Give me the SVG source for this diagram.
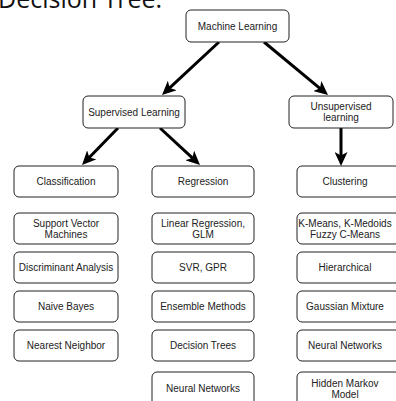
<svg xmlns="http://www.w3.org/2000/svg" width="396" height="401" viewBox="0 0 396 401">
<style>
.box{fill:#fff;stroke:#222;stroke-width:1}
.t{font-family:"Liberation Sans",Arial,sans-serif;font-size:10px;fill:#222;text-anchor:middle;dominant-baseline:central}
.ln{stroke:#000;stroke-width:3;fill:none;marker-end:url(#ah)}
.title{font-family:"Open Sans",sans-serif;font-size:25px;fill:#111}
</style>
<defs>
<marker id="ah" viewBox="0 0 14 13" refX="5" refY="6.5" markerWidth="14" markerHeight="13" markerUnits="userSpaceOnUse" orient="auto">
<path d="M0,0 L14,6.5 L0,13 L3.5,6.5 Z" fill="#000"/>
</marker>
</defs>
<rect width="396" height="401" fill="#fff"/>
<text class="title" x="-2" y="8">Decision Tree.</text>
<g id="connectors">
<line class="ln" x1="219" y1="42" x2="168.6" y2="88.9"/>
<line class="ln" x1="264" y1="42" x2="321.1" y2="89.3"/>
<line class="ln" x1="118" y1="128" x2="88.3" y2="158.5"/>
<line class="ln" x1="160" y1="128" x2="193.4" y2="158.9"/>
<line class="ln" x1="341" y1="128" x2="341" y2="157"/>
</g>
<g id="machine-learning"><rect class="box" x="186" y="10" width="103" height="32" rx="5"/><text class="t" x="237.5" y="26">Machine Learning</text></g>
<g id="supervised"><rect class="box" x="83" y="96" width="102" height="32" rx="5"/><text class="t" x="134" y="112">Supervised Learning</text></g>
<g id="unsupervised"><rect class="box" x="289" y="96" width="104" height="32" rx="5"/><text class="t" x="341" y="106.5">Unsupervised</text><text class="t" x="341" y="117.5">learning</text></g>
<g id="classification"><rect class="box" x="14" y="166" width="104" height="31" rx="5"/><text class="t" x="66" y="181.5">Classification</text></g>
<g id="regression"><rect class="box" x="152" y="166" width="102" height="31" rx="5"/><text class="t" x="203" y="181.5">Regression</text></g>
<g id="clustering"><rect class="box" x="297" y="166" width="103" height="31" rx="5"/><text class="t" x="345" y="181.5">Clustering</text></g>
<g id="svm"><rect class="box" x="14" y="213" width="104" height="31" rx="5"/><text class="t" x="66" y="223">Support Vector</text><text class="t" x="66" y="234">Machines</text></g>
<g id="discriminant"><rect class="box" x="14" y="252" width="104" height="31" rx="5"/><text class="t" x="66" y="267.5">Discriminant Analysis</text></g>
<g id="naive-bayes"><rect class="box" x="14" y="291" width="104" height="31" rx="5"/><text class="t" x="66" y="306.5">Naive Bayes</text></g>
<g id="nearest-neighbor"><rect class="box" x="14" y="330" width="104" height="31" rx="5"/><text class="t" x="66" y="345.5">Nearest Neighbor</text></g>
<g id="linear-regression"><rect class="box" x="152" y="213" width="102" height="31" rx="5"/><text class="t" x="203" y="223">Linear Regression,</text><text class="t" x="203" y="234">GLM</text></g>
<g id="svr-gpr"><rect class="box" x="152" y="252" width="102" height="31" rx="5"/><text class="t" x="203" y="267.5">SVR, GPR</text></g>
<g id="ensemble"><rect class="box" x="152" y="291" width="102" height="31" rx="5"/><text class="t" x="203" y="306.5">Ensemble Methods</text></g>
<g id="decision-trees"><rect class="box" x="152" y="330" width="102" height="31" rx="5"/><text class="t" x="203" y="345.5">Decision Trees</text></g>
<g id="neural-networks-reg"><rect class="box" x="152" y="372" width="102" height="35" rx="5"/><text class="t" x="203" y="388">Neural Networks</text></g>
<g id="kmeans"><rect class="box" x="297" y="213" width="103" height="31" rx="5"/><text class="t" x="345" y="223">K-Means, K-Medoids</text><text class="t" x="345" y="234">Fuzzy C-Means</text></g>
<g id="hierarchical"><rect class="box" x="297" y="252" width="103" height="31" rx="5"/><text class="t" x="345" y="267.5">Hierarchical</text></g>
<g id="gaussian-mixture"><rect class="box" x="297" y="291" width="103" height="31" rx="5"/><text class="t" x="345" y="306.5">Gaussian Mixture</text></g>
<g id="neural-networks-clu"><rect class="box" x="297" y="330" width="103" height="31" rx="5"/><text class="t" x="345" y="345.5">Neural Networks</text></g>
<g id="hmm"><rect class="box" x="297" y="372" width="103" height="35" rx="5"/><text class="t" x="345" y="383">Hidden Markov</text><text class="t" x="345" y="394">Model</text></g>
</svg>
